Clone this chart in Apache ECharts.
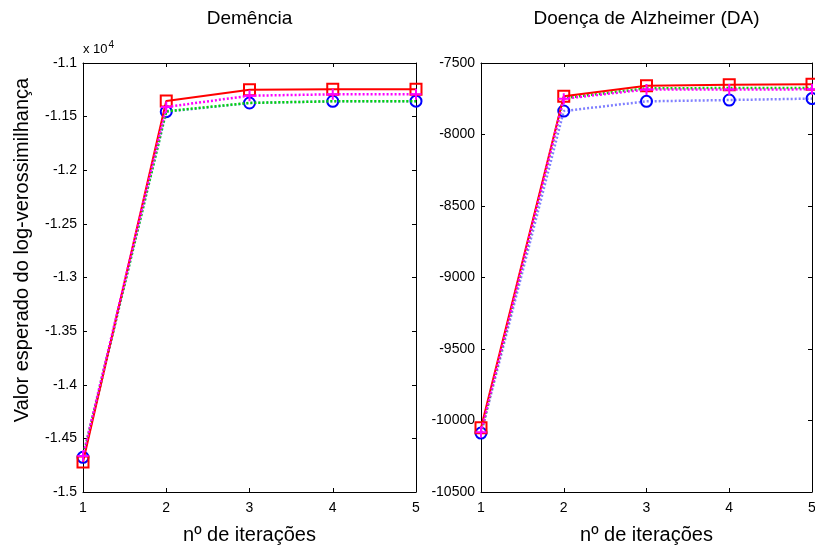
<!DOCTYPE html>
<html>
<head>
<meta charset="utf-8">
<script src="https://cdn.jsdelivr.net/npm/echarts@6/dist/echarts.min.js"></script>
<style>html,body{margin:0;padding:0;background:#fff}#c{width:815px;height:550px}</style>
</head>
<body>
<div id="c"></div>
<script>
const iterations = [1, 2, 3, 4, 5];
const titles = ['Demência', 'Doença de Alzheimer (DA)'];
const xLabel = 'nº de iterações';
const yLabel = 'Valor esperado do log-verossimilhança';

// Demência (raw values; axis shows them in units of 10^4)
const demRed     = [-14720, -11354, -11250, -11245, -11245];
const demMagenta = [-14665, -11410, -11305, -11292, -11292];
const demGreen   = [-14672, -11450, -11372, -11357, -11357];
const demBlue    = [-14677, -11454, -11373, -11357, -11356];

// Doença de Alzheimer (DA)
const daRed     = [-10050, -7733, -7659, -7652, -7649];
const daGreen   = [-10085, -7745, -7677, -7675, -7675];
const daMagenta = [-10082, -7750, -7685, -7686, -7684];
const daBlue    = [-10088, -7836, -7768, -7759, -7749];

const FONT = 'Liberation Sans, Arial, sans-serif';
const chart = echarts.init(document.getElementById('c'), null, {renderer: 'canvas'});

const grids = [
  {left: 83, top: 63, width: 333, height: 429, outerBoundsMode: 'none', containLabel: false},
  {left: 481, top: 63, width: 331, height: 429, outerBoundsMode: 'none', containLabel: false}
];
const yRanges = [
  {min: -15000, max: -11000, interval: 500, fmt: v => String(+(v / 10000).toFixed(2))},
  {min: -10500, max: -7500, interval: 500, fmt: v => String(v)}
];

const xAxes = [], yAxes = [];
grids.forEach((g, i) => {
  const lineC = {show: true, lineStyle: {color: '#000', width: 1}};
  xAxes.push({
    gridIndex: i, type: 'value', min: 1, max: 5, interval: 1, position: 'bottom',
    axisLine: lineC, axisTick: {show: true, inside: true, length: 4, lineStyle: {color: '#000'}},
    axisLabel: {color: '#000', fontSize: 14, fontFamily: FONT, margin: 9},
    splitLine: {show: false}
  });
  xAxes.push({
    gridIndex: i, type: 'value', min: 1, max: 5, interval: 1, position: 'top',
    axisLine: lineC, axisTick: {show: true, inside: true, length: 4, lineStyle: {color: '#000'}},
    axisLabel: {show: false}, splitLine: {show: false}
  });
  const r = yRanges[i];
  yAxes.push({
    gridIndex: i, type: 'value', min: r.min, max: r.max, interval: r.interval, position: 'left',
    axisLine: lineC, axisTick: {show: true, inside: true, length: 4, lineStyle: {color: '#000'}},
    axisLabel: {color: '#000', fontSize: 14, fontFamily: FONT, margin: 6, formatter: r.fmt},
    splitLine: {show: false}
  });
  yAxes.push({
    gridIndex: i, type: 'value', min: r.min, max: r.max, interval: r.interval, position: 'right',
    axisLine: lineC, axisTick: {show: true, inside: true, length: 4, lineStyle: {color: '#000'}},
    axisLabel: {show: false}, splitLine: {show: false}
  });
});

const plusPath = 'path://M0,5L10,5M5,0L5,10';
function toPairs(arr) { return iterations.map((x, k) => [x, arr[k]]); }

function mk(kind, data, gi) {
  const base = {type: 'line', xAxisIndex: gi * 2, yAxisIndex: gi * 2, data: toPairs(data),
    clip: false, animation: false, silent: true};
  if (kind === 'red') return Object.assign(base, {
    symbol: 'rect', symbolSize: 11, showAllSymbol: true,
    lineStyle: {color: '#ff0000', width: 2, type: 'solid'},
    itemStyle: {color: 'rgba(255,255,255,0)', borderColor: '#ff0000', borderWidth: 2}, z: 4});
  if (kind === 'magenta') return Object.assign(base, {
    symbol: plusPath, symbolSize: 11,
    lineStyle: {color: '#ff00ff', width: 2.5, type: [2, 2]},
    itemStyle: {color: 'rgba(255,255,255,0)', borderColor: '#ff00ff', borderWidth: 2}, z: 5});
  if (kind === 'green') return Object.assign(base, {
    symbol: 'none',
    lineStyle: {color: '#00dd00', width: 2.5, type: [2, 2]}, z: 3});
  return Object.assign(base, {
    symbol: 'circle', symbolSize: 11,
    lineStyle: {color: '#8080ff', width: 2.5, type: [2, 2]},
    itemStyle: {color: 'rgba(255,255,255,0)', borderColor: '#0000ff', borderWidth: 2}, z: 2});
}

const series = [
  mk('blue', demBlue, 0), mk('green', demGreen, 0), mk('red', demRed, 0), mk('magenta', demMagenta, 0),
  mk('blue', daBlue, 1), mk('green', daGreen, 1), mk('red', daRed, 1), mk('magenta', daMagenta, 1)
];

const graphic = [
  {type: 'text', left: 83, top: 40, style: {
    text: '{a|x 10}{s|4}', fontFamily: FONT,
    rich: {a: {fontSize: 13, fontFamily: FONT, fill: '#000', verticalAlign: 'bottom', lineHeight: 16},
           s: {fontSize: 10, fontFamily: FONT, fill: '#000', verticalAlign: 'top', padding: [0, 0, 8, 1], lineHeight: 16}}}},
  {type: 'text', x: 22, y: 250, rotation: Math.PI / 2, style: {
    text: yLabel, fontSize: 20, fontFamily: FONT, fill: '#000', align: 'center', verticalAlign: 'middle'}}
];
grids.forEach((g, i) => {
  graphic.push({type: 'text', x: g.left + g.width / 2, y: 19, style: {
    text: titles[i], fontSize: 19, fontFamily: FONT, fill: '#000', align: 'center', verticalAlign: 'middle'}});
  graphic.push({type: 'text', x: g.left + g.width / 2, y: 535, style: {
    text: xLabel, fontSize: 20, fontFamily: FONT, fill: '#000', align: 'center', verticalAlign: 'middle'}});
});

chart.setOption({
  backgroundColor: '#fff',
  animation: false,
  grid: grids,
  xAxis: xAxes,
  yAxis: yAxes,
  series: series,
  graphic: graphic
});
</script>
</body>
</html>
